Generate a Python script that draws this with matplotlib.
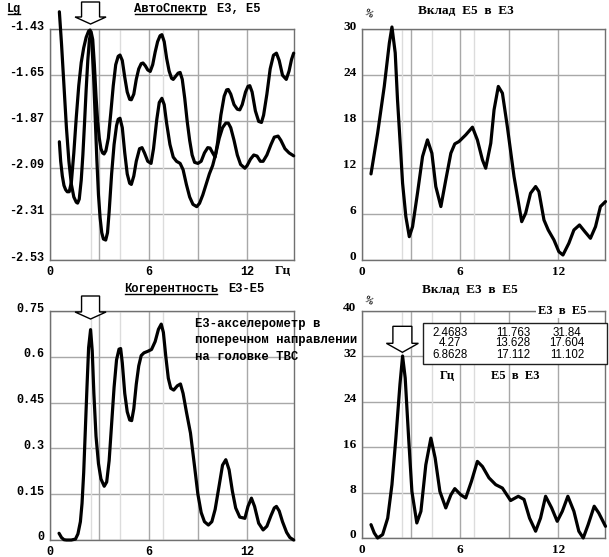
import matplotlib
matplotlib.use("Agg")
import matplotlib.pyplot as plt
from matplotlib.patches import Polygon, Rectangle
from matplotlib.lines import Line2D
from matplotlib import transforms as mtrans

# ---------------- data ----------------
peak_freqs = [2.4683, 4.27, 6.8628]
table_e5_in_e3 = [11.763, 13.628, 17.112]
table_e3_in_e5 = [31.84, 17.604, 11.102]
table_freq_labels = ["2.4683", "4.27", "6.8628"]
table_e5_labels = ["11.763", "13.628", "17.112"]
table_e3_labels = ["31.84", "17.604", "11.102"]

# Autospectrum, upper curve (E3)
spec_a_x = [0.57, 0.7, 0.85, 1.0, 1.15, 1.3, 1.45, 1.6, 1.68, 1.78, 1.9, 2.0, 2.1, 2.2, 2.3, 2.4,
            2.5, 2.6, 2.7, 2.8, 2.9, 3.0, 3.1, 3.2, 3.29, 3.4, 3.55, 3.7, 3.85, 4.0, 4.15, 4.26,
            4.4, 4.55, 4.7, 4.85, 4.95, 5.1, 5.25, 5.4, 5.55, 5.66, 5.8, 5.95, 6.1, 6.25, 6.4,
            6.55, 6.7, 6.81, 6.95, 7.1, 7.25, 7.4, 7.5, 7.65, 7.8, 7.92, 8.05, 8.2, 8.35, 8.5,
            8.65, 8.8, 9.0, 9.2, 9.4, 9.6, 9.74, 9.9, 10.05, 10.2, 10.4, 10.6, 10.75, 10.85,
            11.0, 11.2, 11.4, 11.55, 11.7, 11.9, 12.05, 12.16, 12.3, 12.5, 12.7, 12.87, 13.0,
            13.2, 13.4, 13.6, 13.78, 13.95, 14.15, 14.38, 14.55, 14.7, 14.83]
spec_a_y = [-1.348, -1.50, -1.70, -1.90, -2.06, -2.17, -2.23, -2.255, -2.259, -2.24, -2.15, -2.03,
            -1.88, -1.72, -1.58, -1.48, -1.443, -1.48, -1.60, -1.75, -1.87, -1.95, -2.00, -2.02,
            -2.025, -2.01, -1.95, -1.83, -1.70, -1.60, -1.56, -1.554, -1.58, -1.66, -1.73, -1.765,
            -1.767, -1.74, -1.67, -1.62, -1.595, -1.592, -1.605, -1.625, -1.632, -1.60, -1.54,
            -1.49, -1.462, -1.457, -1.49, -1.57, -1.63, -1.665, -1.67, -1.655, -1.64, -1.637,
            -1.67, -1.76, -1.87, -1.96, -2.03, -2.065, -2.07, -2.06, -2.02, -1.995, -1.997,
            -2.02, -2.04, -1.97, -1.84, -1.75, -1.72, -1.718, -1.74, -1.79, -1.812, -1.815,
            -1.79, -1.73, -1.703, -1.70, -1.73, -1.82, -1.87, -1.875, -1.84, -1.74, -1.62,
            -1.555, -1.545, -1.58, -1.65, -1.67, -1.63, -1.575, -1.545]

# Autospectrum, lower curve (E5)
spec_b_x = [0.57, 0.65, 0.75, 0.85, 0.95, 1.05, 1.17, 1.3, 1.45, 1.6, 1.75, 1.9, 2.05, 2.2, 2.35,
            2.44, 2.55, 2.65, 2.75, 2.85, 2.95, 3.05, 3.15, 3.25, 3.39, 3.5, 3.6, 3.75, 3.9, 4.05,
            4.15, 4.26, 4.4, 4.55, 4.7, 4.85, 4.95, 5.1, 5.25, 5.45, 5.6, 5.75, 5.95, 6.15, 6.3,
            6.5, 6.65, 6.81, 6.95, 7.1, 7.3, 7.5, 7.7, 7.92, 8.1, 8.3, 8.5, 8.7, 8.93, 9.1, 9.3,
            9.5, 9.7, 9.9, 10.1, 10.3, 10.5, 10.7, 10.85, 11.0, 11.2, 11.4, 11.6, 11.86, 12.0,
            12.2, 12.4, 12.6, 12.8, 12.97, 13.2, 13.45, 13.65, 13.88, 14.05, 14.3, 14.55, 14.83]
spec_b_y = [-1.967, -2.06, -2.13, -2.175, -2.195, -2.205, -2.205, -2.16, -2.02, -1.85, -1.70,
            -1.59, -1.52, -1.47, -1.44, -1.435, -1.50, -1.65, -1.85, -2.05, -2.22, -2.33, -2.40,
            -2.43, -2.435, -2.40, -2.30, -2.12, -1.98, -1.89, -1.86, -1.855, -1.90, -2.02, -2.12,
            -2.165, -2.17, -2.13, -2.06, -2.00, -1.995, -2.02, -2.06, -2.07, -2.00, -1.86, -1.78,
            -1.76, -1.79, -1.88, -1.98, -2.04, -2.06, -2.07, -2.10, -2.17, -2.23, -2.265, -2.276,
            -2.26, -2.22, -2.17, -2.12, -2.08, -2.02, -1.95, -1.90, -1.878, -1.878, -1.90, -1.96,
            -2.03, -2.075, -2.093, -2.08, -2.05, -2.03, -2.035, -2.06, -2.06, -2.03, -1.98,
            -1.945, -1.94, -1.96, -2.00, -2.02, -2.034]

# Contribution of E5 into E3, %
e5e3_x = [0.55, 0.955, 1.36, 1.67, 1.83, 2.03, 2.17, 2.32, 2.48, 2.68, 2.89, 3.09, 3.39, 3.70,
          4.0, 4.27, 4.51, 4.82, 5.12, 5.43, 5.67, 5.93, 6.34, 6.75, 7.05, 7.36, 7.56, 7.87,
          8.07, 8.33, 8.58, 8.88, 9.29, 9.76, 10.0, 10.3, 10.61, 10.81, 11.12, 11.38, 11.73,
          12.03, 12.28, 12.64, 12.95, 13.29, 13.62, 13.96, 14.27, 14.57, 14.88]
e5e3_y = [11.18, 16.47, 22.54, 28.17, 30.26, 26.9, 20.8, 15.6, 9.97, 5.63, 3.03, 4.33, 8.67,
          13.44, 15.6, 13.87, 9.54, 6.94, 10.4, 13.87, 15.08, 15.39, 16.25, 17.25, 15.6, 13.0,
          11.92, 15.17, 19.5, 22.54, 21.67, 17.34, 10.84, 4.98, 6.07, 8.67, 9.54, 8.89, 5.2,
          3.9, 2.6, 1.08, 0.65, 2.17, 3.9, 4.55, 3.68, 2.82, 4.33, 6.94, 7.59]

# Coherence E3-E5
coh_x = [0.55, 0.7, 0.85, 1.0, 1.3, 1.55, 1.7, 1.85, 1.95, 2.05, 2.15, 2.25, 2.35, 2.47, 2.57,
         2.67, 2.8, 2.95, 3.1, 3.3, 3.45, 3.6, 3.75, 3.9, 4.05, 4.2, 4.3, 4.4, 4.55, 4.7, 4.85,
         4.97, 5.1, 5.25, 5.4, 5.55, 5.72, 5.95, 6.18, 6.4, 6.6, 6.77, 6.9, 7.05, 7.2, 7.35,
         7.53, 7.75, 7.94, 8.1, 8.3, 8.55, 8.8, 9.0, 9.2, 9.4, 9.64, 9.85, 10.05, 10.3, 10.5,
         10.7, 10.9, 11.1, 11.3, 11.55, 11.86, 12.05, 12.26, 12.45, 12.7, 12.97, 13.2, 13.45,
         13.65, 13.78, 13.95, 14.15, 14.4, 14.6, 14.83]
coh_y = [0.022, 0.008, 0.001, 0.0, 0.0, 0.003, 0.02, 0.06, 0.12, 0.22, 0.36, 0.50, 0.63, 0.689,
         0.62, 0.48, 0.34, 0.25, 0.20, 0.176, 0.19, 0.26, 0.38, 0.50, 0.59, 0.625, 0.627, 0.58,
         0.48, 0.42, 0.393, 0.391, 0.43, 0.51, 0.57, 0.604, 0.613, 0.618, 0.624, 0.65, 0.69,
         0.707, 0.68, 0.60, 0.53, 0.497, 0.491, 0.505, 0.511, 0.48, 0.42, 0.35, 0.24, 0.15,
         0.09, 0.06, 0.049, 0.06, 0.10, 0.18, 0.245, 0.263, 0.23, 0.16, 0.105, 0.075, 0.071,
         0.11, 0.137, 0.11, 0.055, 0.033, 0.045, 0.08, 0.105, 0.11, 0.095, 0.06, 0.025, 0.008,
         0.0]

# Contribution of E3 into E5, %
e3e5_x = [0.55, 0.75, 0.955, 1.26, 1.57, 1.83, 2.07, 2.32, 2.48, 2.64, 2.85, 3.05, 3.35, 3.6,
          3.9, 4.21, 4.47, 4.76, 5.12, 5.43, 5.67, 6.04, 6.34, 6.69, 7.05, 7.36, 7.76, 8.17,
          8.58, 9.08, 9.55, 9.9, 10.24, 10.61, 10.91, 11.22, 11.59, 11.93, 12.24, 12.58, 12.95,
          13.25, 13.52, 13.82, 14.19, 14.47, 14.88]
e3e5_y = [2.35, 0.88, 0.0, 0.6, 3.5, 9.4, 17.6, 27.1, 32.06, 28.2, 17.6, 8.2, 2.65, 4.7, 12.9,
          17.6, 14.1, 8.2, 5.3, 7.6, 8.7, 7.6, 7.06, 10.0, 13.5, 12.6, 10.6, 9.4, 8.8, 6.6,
          7.35, 6.8, 3.5, 1.2, 3.5, 7.35, 5.3, 2.94, 4.7, 7.35, 4.7, 1.2, 0.0, 2.35, 5.6, 4.4,
          2.06]

tl_yticks = [-2.53, -2.31, -2.09, -1.87, -1.65, -1.43]
tl_ylabels = ["-2.53", "-2.31", "-2.09", "-1.87", "-1.65", "-1.43"]
tr_yticks = [0, 6, 12, 18, 24, 30]
bl_yticks = [0, 0.15, 0.3, 0.45, 0.6, 0.75]
bl_ylabels = ["0", "0.15", "0.3", "0.45", "0.6", "0.75"]
br_yticks = [0, 8, 16, 24, 32, 40]
x_grid = [0, 3, 6, 9, 12]
x_labels = ["0", "", "6", "", "12"]

# ---------------- figure ----------------
W, H = 609, 557
fig = plt.figure(figsize=(W / 100, H / 100), dpi=100)
fig.patch.set_facecolor("white")

MONO = "Liberation Mono"
SERIF = "Liberation Serif"
SANS = "Liberation Sans"


def fr(l, t, r, b):
    return [l / W, 1 - b / H, (r - l) / W, (b - t) / H]


ax_tl = fig.add_axes(fr(50, 29, 294, 260))
ax_tr = fig.add_axes(fr(362, 29, 605, 260))
ax_bl = fig.add_axes(fr(50, 311, 294, 540))
ax_br = fig.add_axes(fr(362, 311, 605, 538))

LINE_KW = dict(color="black", lw=2.3, solid_joinstyle="round", solid_capstyle="round",
               clip_on=False, zorder=5)


def style(ax, ylim, yticks, ylabels, family, fs):
    ax.set_xlim(0, 14.85)
    ax.set_ylim(*ylim)
    ax.set_xticks(x_grid)
    ax.set_xticklabels(x_labels, fontfamily=family, fontweight="bold", fontsize=fs)
    ax.set_yticks(yticks)
    ax.set_yticklabels(ylabels, fontfamily=family, fontweight="bold", fontsize=fs)
    ax.tick_params(length=0, pad=4)
    ax.tick_params(axis="x", pad=4)
    ax.grid(True, color="#a8a8a8", lw=1.0, zorder=1)
    for f in peak_freqs:
        ax.axvline(f, color="#dcdcdc", lw=1.0, zorder=1.5)
    for s in ax.spines.values():
        s.set_color("#707070")
        s.set_linewidth(1.0)
    ax.set_axisbelow(True)
    off = mtrans.ScaledTranslation(0, 4 / 100, fig.dpi_scale_trans)
    for lab in ax.get_yticklabels():
        lab.set_transform(lab.get_transform() + off)


style(ax_tl, (-2.53, -1.43), tl_yticks, tl_ylabels, MONO, 8.5)
style(ax_tr, (0, 30), tr_yticks, [str(v) for v in tr_yticks], SERIF, 9.5)
style(ax_bl, (0, 0.75), bl_yticks, bl_ylabels, MONO, 8.5)
style(ax_br, (0, 40), br_yticks, [str(v) for v in br_yticks], SERIF, 9.5)

ax_tl.plot(spec_a_x, spec_a_y, **LINE_KW)
ax_tl.plot(spec_b_x, spec_b_y, **LINE_KW)
ax_tr.plot(e5e3_x, e5e3_y, **LINE_KW)
ax_bl.plot(coh_x, coh_y, **LINE_KW)
ax_br.plot(e3e5_x, e3e5_y, **LINE_KW)


def block_arrow(ax, x, y, ytrans, dy_px, shaft_w, head_w, head_h, total_h):
    base = mtrans.blended_transform_factory(ax.transData, ytrans)
    off = mtrans.ScaledTranslation(x, y, base)
    tr = fig.dpi_scale_trans + off
    s, h = shaft_w / 2 / 100, head_w / 2 / 100
    d = dy_px / 100
    hh, th = head_h / 100, total_h / 100
    verts = [(0, d), (-h, d + hh), (-s, d + hh), (-s, d + th), (s, d + th), (s, d + hh), (h, d + hh)]
    p = Polygon(verts, closed=True, facecolor="white", edgecolor="black", lw=1.0,
                transform=tr, clip_on=False, zorder=8)
    fig.add_artist(p)


block_arrow(ax_tl, peak_freqs[0], 1.0, ax_tl.transAxes, 5, 18, 31, 7, 22)
block_arrow(ax_bl, peak_freqs[0], 1.0, ax_bl.transAxes, -8, 18, 31, 7, 23)
block_arrow(ax_br, peak_freqs[0], table_e3_in_e5[0], ax_br.transData, 5, 19, 32, 9, 26)

# ---------------- texts ----------------
def ftext(x, y, s, **kw):
    return fig.text(x / W, 1 - y / H, s, **kw)


B = dict(fontweight="bold")
t_lg = ftext(7, 9, "Lg", fontfamily=MONO, fontsize=8.5, va="center", ha="left", **B)
t_auto = ftext(134, 9, "АвтоСпектр", fontfamily=MONO, fontsize=8.7, va="center", ha="left", **B)
ftext(217, 9, "E3, E5", fontfamily=MONO, fontsize=8.7, va="center", ha="left", **B)
ftext(466, 11, "Вклад  E5  в  E3", fontfamily=SERIF, fontsize=9.5, va="center", ha="center", **B)
ftext(368, 14, "%", fontfamily=SERIF, fontsize=7, va="center", ha="center", rotation=-30, **B)
ftext(283, 271, "Гц", fontfamily=SERIF, fontsize=9.5, va="center", ha="center", **B)
t_coh = ftext(124, 289, "Когерентность", fontfamily=MONO, fontsize=8.7, va="center", ha="left", **B)
ftext(228, 289, "E3-E5", fontfamily=MONO, fontsize=8.7, va="center", ha="left", **B)
ftext(470, 290, "Вклад  E3  в  E5", fontfamily=SERIF, fontsize=9.5, va="center", ha="center", **B)
ftext(368, 301, "%", fontfamily=SERIF, fontsize=7, va="center", ha="center", rotation=-30, **B)
for i, line in enumerate(["E3-акселерометр в", "поперечном направлении", "на головке ТВС"]):
    ftext(195, 324 + i * 16.5, line, fontfamily=MONO, fontsize=8.8, va="center", ha="left",
          zorder=9, **B)

# table inside bottom-right axes
rect = Rectangle((0.251, 0.767), 0.757, 0.180, transform=ax_br.transAxes, facecolor="white",
                 edgecolor="#202020", lw=1.0, clip_on=False, zorder=9)
ax_br.add_patch(rect)
rows_y = [0.905, 0.857, 0.806]
for i in range(3):
    ax_br.text(0.362, rows_y[i], table_freq_labels[i], transform=ax_br.transAxes, ha="center",
               va="center", fontfamily=SANS, fontsize=8.3, zorder=10)
    ax_br.text(0.621, rows_y[i], table_e5_labels[i], transform=ax_br.transAxes, ha="center",
               va="center", fontfamily=SANS, fontsize=8.3, zorder=10)
    ax_br.text(0.845, rows_y[i], table_e3_labels[i], transform=ax_br.transAxes, ha="center",
               va="center", fontfamily=SANS, fontsize=8.3, zorder=10)
ax_br.text(0.823, 1.0, "E3  в  E5", transform=ax_br.transAxes, ha="center", va="center",
           fontfamily=SERIF, fontsize=9, fontweight="bold", zorder=11, clip_on=False,
           bbox=dict(facecolor="white", edgecolor="none", pad=1.0))
ax_br.text(0.35, 0.715, "Гц", transform=ax_br.transAxes, ha="center", va="center",
           fontfamily=SERIF, fontsize=9, fontweight="bold", zorder=10)
ax_br.text(0.63, 0.715, "E5  в  E3", transform=ax_br.transAxes, ha="center", va="center",
           fontfamily=SERIF, fontsize=9, fontweight="bold", zorder=10)

# underlines
fig.canvas.draw()
for t in (t_lg, t_auto, t_coh):
    bb = t.get_window_extent()
    fig.add_artist(Line2D([bb.x0 + 1, bb.x1 - 1], [bb.y0 + 1, bb.y0 + 1], color="black", lw=1.0,
                          transform=mtrans.IdentityTransform()))

fig.savefig("out.png", dpi=100, facecolor="white")
